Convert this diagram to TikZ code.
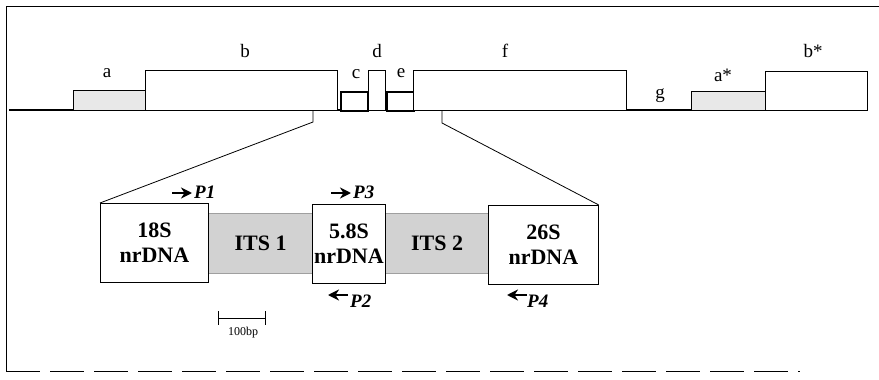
\documentclass[tikz,border=0pt]{standalone}
\usepackage{fontspec}
\setmainfont{Liberation Serif}
\usetikzlibrary{arrows.meta}
\begin{document}
\begin{tikzpicture}[x=1pt,y=-1pt,
  seg/.style={draw,line width=0.8pt,inner sep=0pt,anchor=north west,fill=white},
  thickseg/.style={seg,line width=1.6pt},
  shadeseg/.style={seg,fill=gray!18},
  lab/.style={font=\fontsize{19}{19}\selectfont,inner sep=0pt},
  rbox/.style={draw,line width=0.8pt,inner sep=0pt,anchor=north west,fill=white,align=center,
    font=\fontsize{22}{25}\bfseries\selectfont},
  its/.style={rbox,draw=gray!75,line width=1.2pt,fill=gray!35},
  prim/.style={font=\fontsize{19}{19}\bfseries\itshape\selectfont,inner sep=0pt},
  parr/.style={line width=2pt,-{Stealth[length=11pt,width=11pt,inset=3.5pt]}}]
\useasboundingbox (0,0) rectangle (879,380);
% frame
\draw[line width=0.8pt] (879,6) -- (6,6) -- (6,371);
\draw[line width=0.8pt,dash pattern=on 34pt off 10pt] (6,371) -- (800,371);
% baseline
\draw[line width=1.4pt] (9,110) -- (867,110);
% top segments
\node[shadeseg,minimum width=72pt,minimum height=20pt] (a) at (73,90) {};
\node[seg,minimum width=192pt,minimum height=40pt] (b) at (145,70) {};
\node[thickseg,minimum width=27pt,minimum height=19pt] (c) at (340,91) {};
\node[seg,minimum width=17pt,minimum height=40pt] (d) at (368,70) {};
\node[thickseg,minimum width=27pt,minimum height=19pt] (e) at (386,91) {};
\node[seg,minimum width=213pt,minimum height=40pt] (f) at (413,70) {};
\node[shadeseg,minimum width=74pt,minimum height=19pt] (as) at (691,91) {};
\node[seg,minimum width=102pt,minimum height=39pt] (bs) at (765,71) {};
% labels
\node[lab] (la) at (107,73) {a};
\node[lab] (lb) at (245,51) {b};
\node[lab] (lc) at (356,74) {c};
\node[lab] (ld) at (377,51) {d};
\node[lab] (le) at (401,73) {e};
\node[lab] (lf) at (505,51) {f};
\node[lab] (lg) at (660,96) {g};
\node[lab] (las) at (723,75) {a*};
\node[lab] (lbs) at (813,51) {b*};
% lower boxes
\node[its,minimum width=104pt,minimum height=60pt] (its1) at (208,213) {ITS 1};
\node[its,minimum width=103pt,minimum height=60pt] (its2) at (385,213) {ITS 2};
\node[rbox,minimum width=108pt,minimum height=79pt] (s18) at (100,203) {18S\\nrDNA};
\node[rbox,minimum width=73pt,minimum height=79pt] (s58) at (312,204) {5.8S\\nrDNA};
\node[rbox,minimum width=110pt,minimum height=79pt] (s26) at (488,205) {26S\\nrDNA};
% zoom lines
\coordinate (zl) at (313,111);
\coordinate (zr) at (442,111);
\draw[line width=0.8pt] (zl) -- ++(0,11) -- (s18.north west);
\draw[line width=0.8pt] (zr) -- ++(0,12) -- (s26.north east);
% primers
\coordinate (p1a) at (172,193); \coordinate (p1b) at (192,193);
\draw[parr] (p1a) -- (p1b);
\node[prim,anchor=west] (p1) at (194,192) {P1};
\coordinate (p3a) at (331,193); \coordinate (p3b) at (351,193);
\draw[parr] (p3a) -- (p3b);
\node[prim,anchor=west] (p3) at (353,192) {P3};
\coordinate (p2a) at (348,295); \coordinate (p2b) at (328,295);
\draw[parr] (p2a) -- (p2b);
\node[prim,anchor=west] (p2) at (350,301) {P2};
\coordinate (p4a) at (527,295); \coordinate (p4b) at (507,295);
\draw[parr] (p4a) -- (p4b);
\node[prim,anchor=west] (p4) at (527,301) {P4};
% scale bar
\coordinate (sb1) at (218,318); \coordinate (sb2) at (265,318);
\draw[line width=1pt] (sb1) -- (sb2);
\draw[line width=0.6pt] (218,311) -- (218,325) (265,311) -- (265,325);
\node[font=\fontsize{12}{12}\selectfont,inner sep=0pt] (sbl) at (243,333) {100bp};
\end{tikzpicture}
\end{document}
